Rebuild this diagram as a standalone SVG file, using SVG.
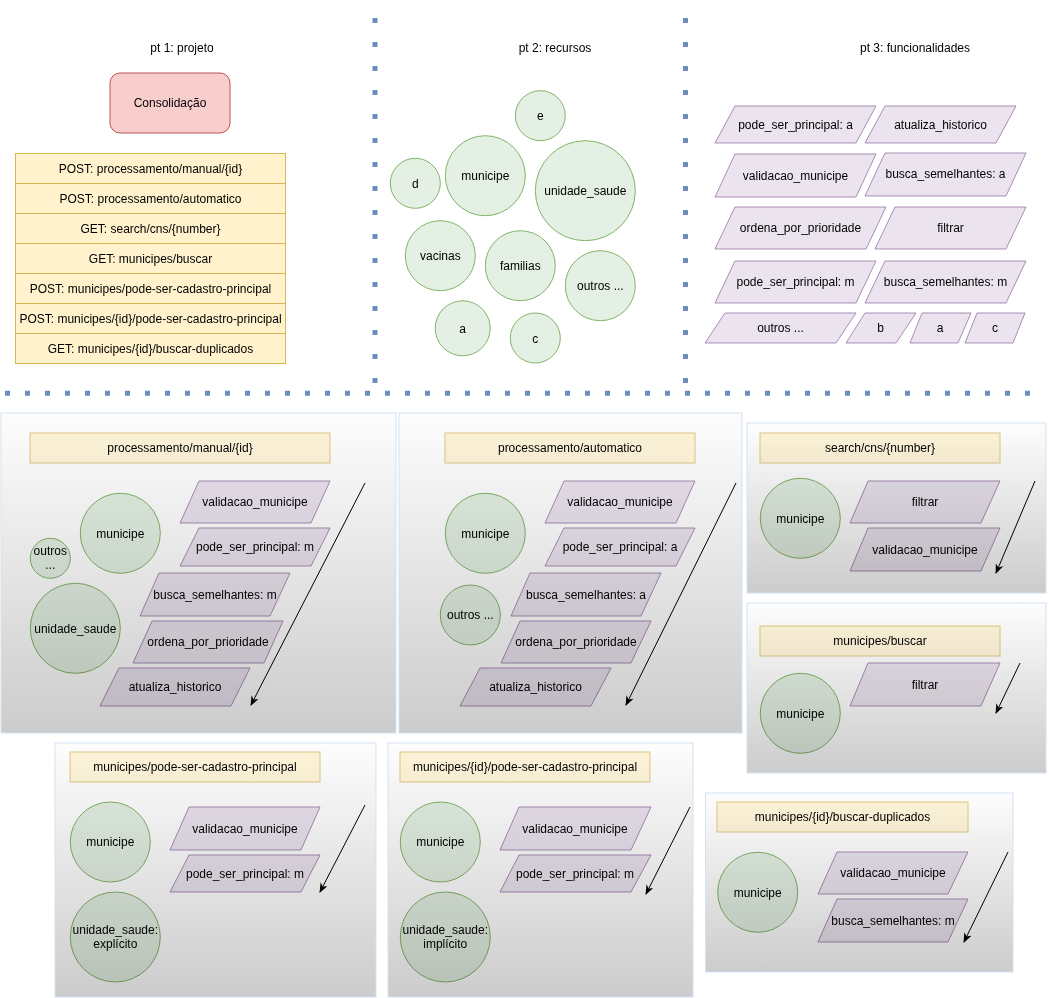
<svg xmlns="http://www.w3.org/2000/svg" width="1049" height="998" viewBox="0 0 1049 998">
<style>
text{font-family:"Liberation Sans",Arial,Helvetica,sans-serif;font-size:12px;fill:#000;text-anchor:middle}
.sep{stroke:#6c8ebf;stroke-width:5;fill:none}
.tbl{fill:#fff2cc;stroke:#d6b656;stroke-width:1}
.hdr{fill:#fff2cc;fill-opacity:0.7;stroke:#d6b656;stroke-opacity:0.7;stroke-width:1;mix-blend-mode:multiply}
.res{fill:#d5e8d4;fill-opacity:0.65;stroke:#82b366;stroke-width:1;mix-blend-mode:multiply}
.fn{fill:#e1d5e7;fill-opacity:0.65;stroke:#9673a6;stroke-opacity:0.8;stroke-width:1;mix-blend-mode:multiply}
.panel{fill:url(#pg);stroke:#d4e1f5;stroke-width:1}
.flow{stroke:#000;stroke-width:1;fill:none;marker-end:url(#arr)}
</style>
<defs>
<linearGradient id="pg" x1="0" y1="0" x2="0" y2="1">
<stop offset="0" stop-color="#fdfdfd"/>
<stop offset="1" stop-color="#cccccc"/>
</linearGradient>
<marker id="arr" markerUnits="userSpaceOnUse" viewBox="0 0 10 8" refX="9" refY="4" markerWidth="10" markerHeight="8" orient="auto">
<path d="M0,0 L10,4 L0,8 L3,4 z" fill="#000"/>
</marker>
</defs>
<rect width="1049" height="998" fill="#ffffff"/>

<g id="separators">
<line class="sep" x1="375" y1="18" x2="375" y2="383" stroke-dasharray="5 19"/>
<line class="sep" x1="685.5" y1="18" x2="685.5" y2="383" stroke-dasharray="5 19"/>
<line class="sep" x1="5" y1="393.3" x2="1031" y2="393.3" stroke-dasharray="5 15"/>
</g>

<g id="titles">
<text x="182" y="52">pt 1: projeto</text>
<text x="555" y="52">pt 2: recursos</text>
<text x="915" y="52">pt 3: funcionalidades</text>
</g>

<g id="consolidacao">
<rect x="110" y="73" width="120" height="60" rx="10" fill="#f8cecc" stroke="#b85450"/>
<text x="170" y="107">Consolidação</text>
</g>

<g id="endpoints">
<rect class="tbl" x="15.5" y="153.5" width="270" height="30"/>
<rect class="tbl" x="15.5" y="183.5" width="270" height="30"/>
<rect class="tbl" x="15.5" y="213.5" width="270" height="30"/>
<rect class="tbl" x="15.5" y="243.5" width="270" height="30"/>
<rect class="tbl" x="15.5" y="273.5" width="270" height="30"/>
<rect class="tbl" x="15.5" y="303.5" width="270" height="30"/>
<rect class="tbl" x="15.5" y="333.5" width="270" height="30"/>
<text x="150.5" y="172.5">POST: processamento/manual/{id}</text>
<text x="150.5" y="202.5">POST: processamento/automatico</text>
<text x="150.5" y="232.5">GET: search/cns/{number}</text>
<text x="150.5" y="262.5">GET: municipes/buscar</text>
<text x="150.5" y="292.5">POST: municipes/pode-ser-cadastro-principal</text>
<text x="150.5" y="322.5">POST: municipes/{id}/pode-ser-cadastro-principal</text>
<text x="150.5" y="352.5">GET: municipes/{id}/buscar-duplicados</text>
</g>

<g id="recursos">
<g id="r-e"><circle class="res" cx="540.3" cy="115.7" r="25"/><text x="540.3" y="120">e</text></g>
<g id="r-d"><circle class="res" cx="415.3" cy="183.3" r="25"/><text x="415.3" y="188">d</text></g>
<g id="r-municipe"><circle class="res" cx="485.3" cy="175.7" r="40"/><text x="485.3" y="180">municipe</text></g>
<g id="r-unidade"><circle class="res" cx="585.3" cy="190.7" r="50"/><text x="585.3" y="195">unidade_saude</text></g>
<g id="r-vacinas"><circle class="res" cx="440.3" cy="255.7" r="35"/><text x="440.3" y="260">vacinas</text></g>
<g id="r-familias"><circle class="res" cx="520.3" cy="265.7" r="35"/><text x="520.3" y="270">familias</text></g>
<g id="r-outros"><circle class="res" cx="600.3" cy="285.7" r="35"/><text x="600.3" y="290">outros ...</text></g>
<g id="r-a"><circle class="res" cx="462.7" cy="328.3" r="27.5"/><text x="462.7" y="332.5">a</text></g>
<g id="r-c"><circle class="res" cx="535.3" cy="338" r="25"/><text x="535.3" y="342.5">c</text></g>
</g>

<g id="funcionalidades">
<g id="f-psp-a"><polygon class="fn" points="735,106 876,106 856,143 715,143"/><text x="795.5" y="128.5">pode_ser_principal: a</text></g>
<g id="f-atualiza"><polygon class="fn" points="885,106 1016,106 996,143 865,143"/><text x="940.5" y="128.5">atualiza_historico</text></g>
<g id="f-valid"><polygon class="fn" points="735,154 876,154 856,197 715,197"/><text x="795.5" y="180">validacao_municipe</text></g>
<g id="f-busca-a"><polygon class="fn" points="885,153 1026,153 1006,196 865,196"/><text x="945.5" y="178">busca_semelhantes: a</text></g>
<g id="f-ordena"><polygon class="fn" points="735,207 886,207 866,249 715,249"/><text x="800.5" y="232">ordena_por_prioridade</text></g>
<g id="f-filtrar"><polygon class="fn" points="895,207 1026,207 1006,249 875,249"/><text x="950.5" y="232">filtrar</text></g>
<g id="f-psp-m"><polygon class="fn" points="735,261 876,261 856,303 715,303"/><text x="795.5" y="286">pode_ser_principal: m</text></g>
<g id="f-busca-m"><polygon class="fn" points="885,261 1026,261 1006,303 865,303"/><text x="945.5" y="286">busca_semelhantes: m</text></g>
<g id="f-outros"><polygon class="fn" points="725,313 856,313 836,343 705,343"/><text x="780.5" y="332">outros ...</text></g>
<g id="f-b"><polygon class="fn" points="865,313 916,313 896,343 846,343"/><text x="880.5" y="332">b</text></g>
<g id="f-a"><polygon class="fn" points="922,313 971,313 958,343 910,343"/><text x="940" y="332">a</text></g>
<g id="f-c"><polygon class="fn" points="977,313 1025,313 1013,343 965,343"/><text x="995" y="332">c</text></g>
</g>

<g id="panel-manual">
<rect class="panel" x="1" y="413" width="395" height="320"/>
<rect class="hdr" x="30" y="433" width="300" height="30"/>
<text x="180" y="452">processamento/manual/{id}</text>
<circle class="res" cx="120.3" cy="533.3" r="40"/><text x="120.3" y="537.5">municipe</text>
<circle class="res" cx="50.3" cy="558.3" r="20"/><text x="50.3" y="555">outros</text><text x="50.3" y="569">...</text>
<circle class="res" cx="75.3" cy="628.3" r="45"/><text x="75.3" y="632.5">unidade_saude</text>
<polygon class="fn" points="199,481 330,481 311,523 180,523"/><text x="255" y="506">validacao_municipe</text>
<polygon class="fn" points="199,528 330,528 311,566 180,566"/><text x="255" y="551">pode_ser_principal: m</text>
<polygon class="fn" points="159,573 290,573 270,616 140,616"/><text x="215" y="598.5">busca_semelhantes: m</text>
<polygon class="fn" points="152,621 283,621 264,663 133,663"/><text x="208" y="646">ordena_por_prioridade</text>
<polygon class="fn" points="119,668 250,668 231,706 100,706"/><text x="175" y="691">atualiza_historico</text>
</g>

<g id="panel-automatico">
<rect class="panel" x="399" y="413" width="343" height="320"/>
<rect class="hdr" x="445" y="433" width="250" height="30"/>
<text x="570" y="452">processamento/automatico</text>
<circle class="res" cx="485.3" cy="533.3" r="40"/><text x="485.3" y="537.5">municipe</text>
<circle class="res" cx="470.3" cy="615" r="30"/><text x="470.3" y="619">outros ...</text>
<polygon class="fn" points="564,481 695,481 676,523 545,523"/><text x="620" y="506">validacao_municipe</text>
<polygon class="fn" points="564,528 695,528 676,566 545,566"/><text x="620" y="551">pode_ser_principal: a</text>
<polygon class="fn" points="530,573 661,573 641,616 511,616"/><text x="586" y="598.5">busca_semelhantes: a</text>
<polygon class="fn" points="520,621 651,621 631,663 501,663"/><text x="576" y="646">ordena_por_prioridade</text>
<polygon class="fn" points="480,668 611,668 591,706 460,706"/><text x="535.5" y="691">atualiza_historico</text>
</g>

<g id="panel-search-cns">
<rect class="panel" x="747" y="423" width="299" height="170"/>
<rect class="hdr" x="760" y="433" width="240" height="30"/>
<text x="880" y="452">search/cns/{number}</text>
<circle class="res" cx="800.3" cy="518.3" r="40"/><text x="800.3" y="522.5">municipe</text>
<polygon class="fn" points="868,481 1000,481 981,523 850,523"/><text x="925" y="506">filtrar</text>
<polygon class="fn" points="868,528 1000,528 981,571 850,571"/><text x="925" y="553.5">validacao_municipe</text>
</g>

<g id="panel-buscar">
<rect class="panel" x="747" y="603" width="299" height="170"/>
<rect class="hdr" x="760" y="626" width="240" height="30"/>
<text x="880" y="645">municipes/buscar</text>
<circle class="res" cx="800.3" cy="713.3" r="40"/><text x="800.3" y="717.5">municipe</text>
<polygon class="fn" points="868,663 1000,663 981,706 850,706"/><text x="925" y="688.5">filtrar</text>
</g>

<g id="panel-pode-ser">
<rect class="panel" x="55" y="743" width="321" height="254"/>
<rect class="hdr" x="70" y="752" width="250" height="30"/>
<text x="195" y="771">municipes/pode-ser-cadastro-principal</text>
<circle class="res" cx="110.3" cy="842" r="40"/><text x="110.3" y="846">municipe</text>
<circle class="res" cx="115.3" cy="937" r="45"/><text x="115.3" y="934">unidade_saude:</text><text x="115.3" y="948">explícito</text>
<polygon class="fn" points="189,807 320,807 301,850 170,850"/><text x="245" y="832.5">validacao_municipe</text>
<polygon class="fn" points="189,855 320,855 301,892 170,892"/><text x="245" y="877.5">pode_ser_principal: m</text>
</g>

<g id="panel-id-pode-ser">
<rect class="panel" x="388" y="743" width="305" height="254"/>
<rect class="hdr" x="400" y="752" width="250" height="30"/>
<text x="525" y="771">municipes/{id}/pode-ser-cadastro-principal</text>
<circle class="res" cx="440.3" cy="842" r="40"/><text x="440.3" y="846">municipe</text>
<circle class="res" cx="445.3" cy="937" r="45"/><text x="445.3" y="934">unidade_saude:</text><text x="445.3" y="948">implícito</text>
<polygon class="fn" points="519,807 651,807 631,850 500,850"/><text x="575" y="832.5">validacao_municipe</text>
<polygon class="fn" points="519,855 651,855 631,892 500,892"/><text x="575" y="877.5">pode_ser_principal: m</text>
</g>

<g id="panel-duplicados">
<rect class="panel" x="705.5" y="793" width="307.5" height="179"/>
<rect class="hdr" x="717" y="802" width="251" height="30"/>
<text x="842.5" y="821">municipes/{id}/buscar-duplicados</text>
<circle class="res" cx="757.7" cy="892.3" r="40"/><text x="757.7" y="896.5">municipe</text>
<polygon class="fn" points="837,852 968,852 948,894 818,894"/><text x="893" y="877">validacao_municipe</text>
<polygon class="fn" points="837,899 968,899 948,942 818,942"/><text x="893" y="924.5">busca_semelhantes: m</text>
</g>

<g id="connectors">
<line class="flow" x1="365" y1="483" x2="251" y2="705"/>
<line class="flow" x1="736" y1="483" x2="626" y2="705"/>
<line class="flow" x1="1035" y1="481" x2="996" y2="573"/>
<line class="flow" x1="1020" y1="663" x2="996" y2="713"/>
<line class="flow" x1="365" y1="805" x2="320" y2="892"/>
<line class="flow" x1="690" y1="807" x2="646" y2="894"/>
<line class="flow" x1="1008" y1="852" x2="964" y2="942"/>
</g>
</svg>
